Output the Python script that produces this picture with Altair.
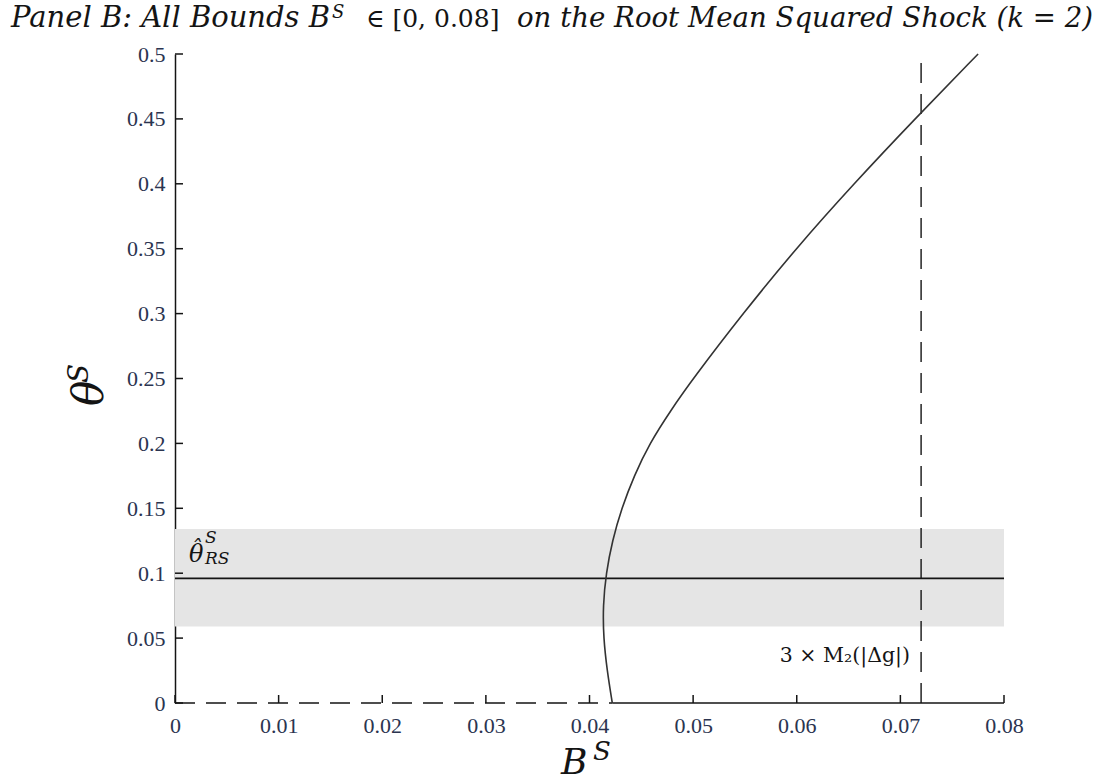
import altair as alt
import pandas as pd

# Bound B^S on the root mean squared shock, traced against theta^S
theta_s = [0.0, 0.025, 0.05, 0.075, 0.1, 0.125, 0.15, 0.175, 0.2, 0.225,
           0.25, 0.3, 0.35, 0.4, 0.45, 0.5]
bound_s = [0.0422, 0.0417, 0.04135, 0.0413, 0.0416, 0.0422, 0.0431, 0.0443, 0.0458, 0.0478,
           0.0500, 0.0548, 0.0599, 0.0655, 0.0714, 0.0775]

# Point estimate of theta^S with its confidence band
theta_hat = 0.096
band_low = 0.059
band_high = 0.134

# Reference bound: 3 x M2(|dg|)
m2_bound = 0.072

x_ticks = [0, 0.01, 0.02, 0.03, 0.04, 0.05, 0.06, 0.07, 0.08]
y_ticks = [0, 0.05, 0.1, 0.15, 0.2, 0.25, 0.3, 0.35, 0.4, 0.45, 0.5]

W, H = 829, 649
INK = "#141414"
LABEL_INK = "#2b3450"

x_scale = alt.Scale(domain=[0, 0.08], nice=False, zero=False)
y_scale = alt.Scale(domain=[0, 0.5], nice=False, zero=False)

x_axis = alt.Axis(values=x_ticks, format="~g", title=None, grid=False, domain=False,
                  ticks=False, tickSize=0, labelPadding=12, labelFlush=False,
                  labelFont="Liberation Serif", labelFontSize=22, labelColor=LABEL_INK)
y_axis = alt.Axis(values=y_ticks, format="~g", title=None, grid=False, domain=True,
                  domainColor=INK, domainWidth=1.5, ticks=False, tickSize=0,
                  labelPadding=10, labelFlush=False, labelFont="Liberation Serif",
                  labelFontSize=22, labelColor=LABEL_INK)


def X(field):
    return alt.X(field, type="quantitative", scale=x_scale, axis=x_axis)


def Y(field):
    return alt.Y(field, type="quantitative", scale=y_scale, axis=y_axis)


band = alt.Chart(pd.DataFrame({"x0": [0.0], "x1": [0.08], "lo": [band_low], "hi": [band_high]})).mark_rect(
    fill="#e5e5e5"
).encode(x=X("x0"), x2="x1", y=Y("lo"), y2="hi")

estimate = alt.Chart(pd.DataFrame({"x0": [0.0], "x1": [0.08], "est": [theta_hat]})).mark_rule(
    color=INK, strokeWidth=1.6
).encode(x=X("x0"), x2="x1", y=Y("est"))

# Zero line: dashed up to where the bound curve starts, solid afterwards
zero_dash = alt.Chart(pd.DataFrame({"x0": [0.0], "x1": [bound_s[0]], "z": [0.0]})).mark_rule(
    color=INK, strokeWidth=1.6, strokeDash=[20, 11]
).encode(x=X("x0"), x2="x1", y=Y("z"))

zero_solid = alt.Chart(pd.DataFrame({"x0": [bound_s[0]], "x1": [0.08], "z": [0.0]})).mark_rule(
    color=INK, strokeWidth=1.6
).encode(x=X("x0"), x2="x1", y=Y("z"))

m2_line = alt.Chart(pd.DataFrame({"m2": [m2_bound], "y0": [0.0], "y1": [0.5]})).mark_rule(
    color=INK, strokeWidth=1.4, strokeDash=[20, 11]
).encode(x=X("m2"), y=Y("y0"), y2="y1")

curve = alt.Chart(pd.DataFrame({"bound": bound_s, "theta": theta_s})).mark_line(
    color="#333333", strokeWidth=1.6, interpolate="basis"
).encode(x=X("bound"), y=Y("theta"), order=alt.Order("theta:Q"))

x_tick_marks = alt.Chart(pd.DataFrame({"t": x_ticks})).mark_rule(
    color=INK, strokeWidth=1.5
).encode(x=X("t"), y=alt.value(H), y2=alt.value(H - 8))

y_tick_marks = alt.Chart(pd.DataFrame({"t": y_ticks})).mark_rule(
    color=INK, strokeWidth=1.5
).encode(y=Y("t"), x=alt.value(0), x2=alt.value(8))


def label(text, x, y, size, italic=True, align="left", angle=0, font="DejaVu Serif", color=INK):
    props = dict(align=align, baseline="alphabetic", fontSize=size, font=font, color=color)
    if italic:
        props["fontStyle"] = "italic"
    if angle:
        props["angle"] = angle
    return alt.Chart(pd.DataFrame({"txt": [text]})).mark_text(**props).encode(
        text="txt:N", x=alt.value(x), y=alt.value(y)
    )


texts = [
    # panel title
    label("Panel B: All Bounds B", 155, -27, 29, align="right"),
    label("S", 157, -36, 18),
    label("\u2208 [0, 0.08]", 191, -27, 25, italic=False),
    label("on the Root Mean Squared Shock (k = 2)", 918, -27, 27.6, align="right"),
    # axis titles
    label("B", 386, 720, 36),
    label("S", 418, 706, 26),
    label("\u03b8", -72, 352, 42, angle=270),
    label("S", -87, 329, 28, angle=270),
    # annotations
    label("\u03b8", 14, 508, 24),
    label("\u02c6", 21, 502, 22, align="center"),
    label("S", 30, 489, 17),
    label("RS", 30, 510, 17),
    label("3 \u00d7 M\u2082(|\u0394g|)", 735, 608, 20.5, italic=False, align="right"),
]

chart = alt.layer(
    band, estimate, zero_dash, zero_solid, m2_line, curve, x_tick_marks, y_tick_marks, *texts
).properties(
    width=W,
    height=H,
    autosize=alt.AutoSizeParams(type="none"),
    padding={"left": 175, "top": 54, "right": 92, "bottom": 80},
    background="white",
).configure_view(stroke=None)

chart.save("out.html", embed_options={"renderer": "svg", "actions": False})
